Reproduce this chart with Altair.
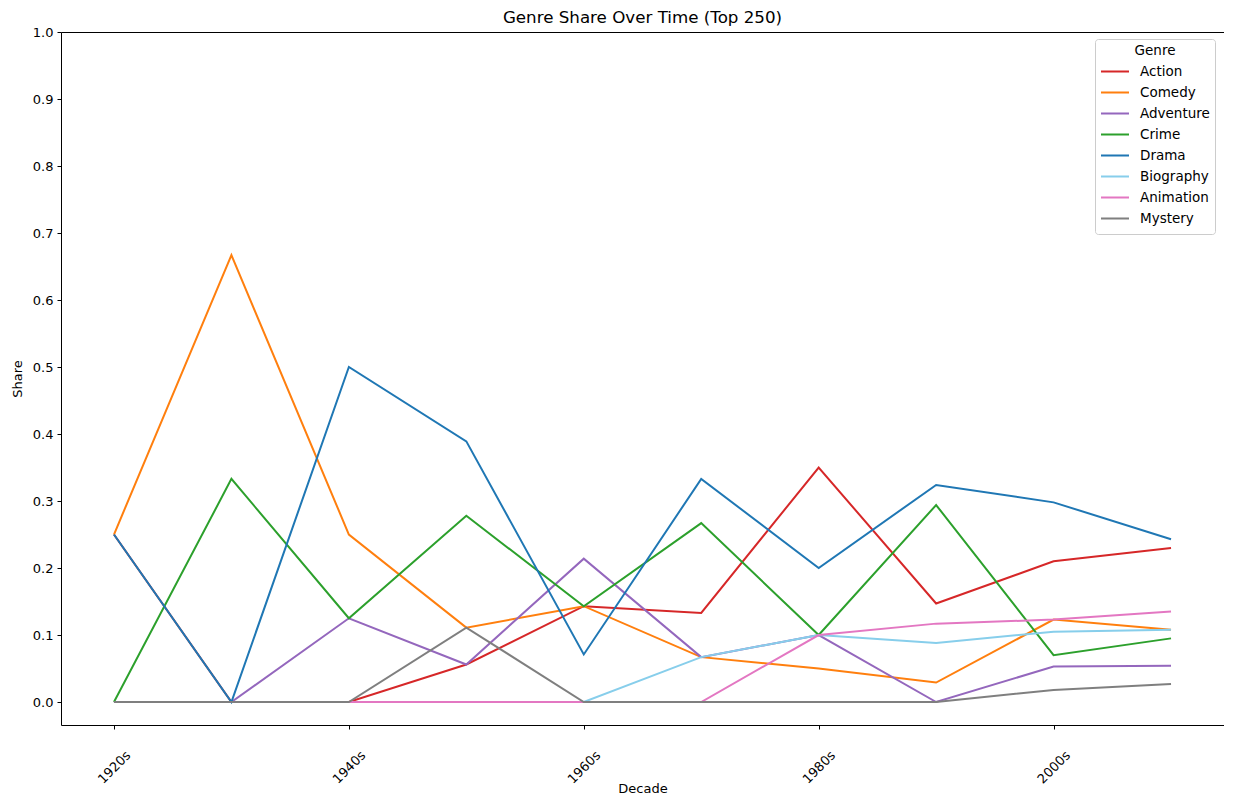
import altair as alt
import pandas as pd

decades = ["1920s", "1930s", "1940s", "1950s", "1960s", "1970s", "1980s", "1990s", "2000s", "2010s"]
genres = ["Action", "Comedy", "Adventure", "Crime", "Drama", "Biography", "Animation", "Mystery"]
colors = ["#d62728", "#ff7f0e", "#9467bd", "#2ca02c", "#1f77b4", "#87ceeb", "#e377c2", "#7f7f7f"]

action    = [0.25, 0.0, 0.0, 0.056, 0.143, 0.133, 0.350, 0.147, 0.210, 0.230]
comedy    = [0.25, 0.667, 0.25, 0.111, 0.143, 0.067, 0.050, 0.029, 0.123, 0.108]
adventure = [0.0, 0.0, 0.125, 0.056, 0.214, 0.067, 0.100, 0.0, 0.053, 0.054]
crime     = [0.0, 0.333, 0.125, 0.278, 0.143, 0.267, 0.100, 0.294, 0.070, 0.095]
drama     = [0.25, 0.0, 0.50, 0.389, 0.071, 0.333, 0.200, 0.324, 0.298, 0.243]
biography = [0.0, 0.0, 0.0, 0.0, 0.0, 0.067, 0.100, 0.088, 0.105, 0.108]
animation = [0.0, 0.0, 0.0, 0.0, 0.0, 0.0, 0.100, 0.117, 0.123, 0.135]
mystery   = [0.0, 0.0, 0.0, 0.111, 0.0, 0.0, 0.0, 0.0, 0.018, 0.027]

series = [action, comedy, adventure, crime, drama, biography, animation, mystery]

rows = []
for gi, (g, vals) in enumerate(zip(genres, series)):
    for d, v in zip(decades, vals):
        rows.append({"Genre": g, "gi": gi, "year": int(d[:4]), "Decade": d, "Share": v})
df = pd.DataFrame(rows)

FONT = "DejaVu Sans"

chart = alt.Chart(df).mark_line(strokeWidth=2, clip=True).encode(
    x=alt.X("year:Q",
            scale=alt.Scale(domain=[1915.49, 2014.51], nice=False, zero=False),
            axis=alt.Axis(title="Decade", values=[1920, 1940, 1960, 1980, 2000],
                          labelExpr="datum.value + 's'", labelAngle=-45,
                          labelAlign="center", labelBaseline="middle",
                          labelPadding=38, grid=False, domain=False,
                          tickColor="black", tickSize=4,
                          titleY=67, titleBaseline="alphabetic")),
    y=alt.Y("Share:Q",
            scale=alt.Scale(domain=[-0.0343, 1.0], nice=False, zero=False),
            axis=alt.Axis(title="Share", values=[i / 10 for i in range(11)],
                          format=".1f", grid=False, domain=False,
                          tickColor="black", tickSize=4, labelPadding=4, titlePadding=8)),
    color=alt.Color("Genre:N",
                    scale=alt.Scale(domain=genres, range=colors),
                    sort=genres,
                    legend=alt.Legend(title="Genre", orient="none", legendX=1034, legendY=7,
                                      symbolType="stroke", symbolStrokeWidth=2, symbolSize=784,
                                      fillColor="white", strokeColor="#cccccc", cornerRadius=3,
                                      padding=5, titleAnchor="middle", titleFontWeight="normal",
                                      titleFontSize=13.5, labelFontSize=13.5, rowPadding=0,
                                      clipHeight=20.9,
                                      titlePadding=3.6, labelOffset=10)),
    detail="Genre:N",
    order=alt.Order("year:Q"),
).properties(
    width=1163, height=693,
    title=alt.Title("Genre Share Over Time (Top 250)", fontSize=16.7, fontWeight="normal",
                    offset=0, dy=1, font=FONT, color="black"),
    autosize=alt.AutoSizeParams(type="none"),
    padding={"left": 53, "top": 24, "right": 0, "bottom": 70},
).configure(
    font=FONT,
    view=alt.ViewConfig(stroke="black", strokeWidth=1),
    axis=alt.AxisConfig(labelFont=FONT, titleFont=FONT, labelFontSize=13, titleFontSize=13,
                        labelColor="black", titleColor="black", titleFontWeight="normal"),
    legend=alt.LegendConfig(labelFont=FONT, titleFont=FONT, labelColor="black", titleColor="black"),
)

chart.save("out.html", embed_options={"renderer": "svg", "actions": False})
